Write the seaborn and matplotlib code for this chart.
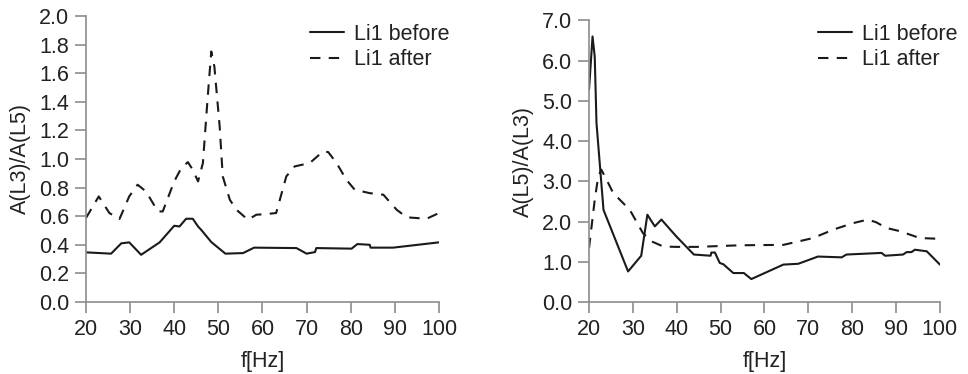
import pandas as pd
import matplotlib
matplotlib.use("Agg")
import matplotlib.pyplot as plt
import seaborn as sns

# Painel esquerdo: A(L3)/A(L5)
f_antes_esq = [20, 25.7, 28, 29.8, 32.5, 36.7, 40, 41.2, 42.7, 44.2, 45.4, 46.1, 48.4, 51.6,
               55.6, 58.1, 67.7, 70, 71.9, 72.2, 80.2, 81.5, 84.3, 84.5, 89.6, 100]
v_antes_esq = [0.347, 0.338, 0.41, 0.417, 0.33, 0.417, 0.533, 0.528, 0.582, 0.582, 0.528, 0.505,
               0.419, 0.338, 0.342, 0.38, 0.377, 0.338, 0.349, 0.377, 0.373, 0.405, 0.4, 0.38,
               0.38, 0.417]
f_depois_esq = [20, 22.9, 25.3, 27.6, 29.8, 31.7, 33.6, 36.3, 37.4, 40, 41.6, 43.1, 44.2, 45.4,
                46.5, 47.6, 48.4, 49.1, 50.3, 51, 52.6, 54.1, 56.7, 58.6, 60.9, 63.1, 65.4, 67.3,
                70.7, 73.7, 74.9, 76.8, 79, 80.9, 84.3, 87.4, 90.4, 92.7, 97.2, 100]
v_depois_esq = [0.587, 0.738, 0.622, 0.58, 0.738, 0.82, 0.773, 0.633, 0.633, 0.843, 0.936, 0.978,
                0.924, 0.843, 0.971, 1.437, 1.751, 1.646, 1.227, 0.878, 0.715, 0.645, 0.575, 0.61,
                0.615, 0.622, 0.878, 0.948, 0.971, 1.052, 1.048, 0.971, 0.855, 0.785, 0.761, 0.75,
                0.645, 0.592, 0.582, 0.622]

# Painel direito: A(L5)/A(L3)
f_antes_dir = [20, 20.8, 21.3, 21.7, 23.3, 28.9, 31.9, 33.3, 35, 36.5, 39.9, 43.9, 47.7, 47.9,
               48.7, 49.8, 50.6, 52.9, 55.3, 57, 64.3, 67.7, 72.2, 77.6, 78.7, 86.7, 87.5, 91.6,
               92.4, 93.5, 94.3, 97, 100]
v_antes_dir = [5.28, 6.6, 6.1, 4.45, 2.29, 0.76, 1.15, 2.17, 1.88, 2.05, 1.63, 1.18, 1.15, 1.23,
               1.23, 0.97, 0.94, 0.72, 0.72, 0.57, 0.93, 0.95, 1.13, 1.11, 1.18, 1.22, 1.15, 1.18,
               1.24, 1.24, 1.30, 1.26, 0.93]
f_depois_dir = [20, 21.3, 22.1, 22.8, 24, 25.5, 29.3, 32.3, 34.2, 36.9, 39.9, 44.5, 54.4, 64.3,
                71.1, 75.7, 80.2, 83.6, 85.5, 87.8, 90.9, 95.4, 100]
v_depois_dir = [1.34, 2.54, 3.12, 3.29, 3.04, 2.71, 2.29, 1.71, 1.51, 1.38, 1.37, 1.37, 1.41, 1.42,
                1.59, 1.80, 1.96, 2.05, 1.98, 1.84, 1.76, 1.59, 1.57]

ticks_esq = [0.0, 0.2, 0.4, 0.6, 0.8, 1.0, 1.2, 1.4, 1.6, 1.8, 2.0]
ticks_dir = [0.0, 1.0, 2.0, 3.0, 4.0, 5.0, 6.0, 7.0]

sns.set_style("ticks")
plt.rcParams['font.family'] = ['Liberation Sans', 'DejaVu Sans']

fig = plt.figure(figsize=(9.68, 3.74), dpi=100)
ax1 = fig.add_axes([0.0888, 0.1925, 0.3647, 0.765])
ax2 = fig.add_axes([0.6085, 0.1925, 0.3625, 0.753])

cinza = '#8c8c8c'
tam = 15.5

def desenha(ax, fa, va, fd, vd, ylim, yticks, ylabel, canto_leg):
    sns.lineplot(x=fa, y=va, ax=ax, color='#1a1a1a', lw=1.5, label='Li1 before', sort=False)
    sns.lineplot(x=fd, y=vd, ax=ax, color='#1a1a1a', lw=1.5, linestyle=(0, (5, 4)),
                 label='Li1 after', sort=False)
    ax.set_xlim(20, 100)
    ax.set_ylim(*ylim)
    ax.set_xticks(range(20, 101, 10))
    ax.set_yticks(yticks)
    ax.set_yticklabels(['{:.1f}'.format(t) for t in yticks])
    ax.set_xlabel('f[Hz]', fontsize=tam, color='#222222', labelpad=8)
    ax.set_ylabel(ylabel, fontsize=tam, color='#222222', labelpad=6)
    sns.despine(ax=ax)
    for s in ['left', 'bottom']:
        ax.spines[s].set_color(cinza)
        ax.spines[s].set_linewidth(1.2)
    ax.tick_params(axis='both', colors=cinza, labelcolor='#222222', labelsize=tam,
                   length=8, width=1.2, pad=4)
    leg = ax.legend(loc='upper right', frameon=False, fontsize=tam, handlelength=1.6,
                    handletextpad=0.45, labelspacing=0.2, borderaxespad=0.0, borderpad=0.0,
                    bbox_to_anchor=canto_leg, bbox_transform=fig.transFigure)
    for t in leg.get_texts():
        t.set_color('#222222')

desenha(ax1, f_antes_esq, v_antes_esq, f_depois_esq, v_depois_esq, (0, 2.0), ticks_esq,
        'A(L3)/A(L5)', (0.464, 0.936))
desenha(ax2, f_antes_dir, v_antes_dir, f_depois_dir, v_depois_dir, (0, 7.0), ticks_dir,
        'A(L5)/A(L3)', (0.989, 0.936))

fig.savefig('out.png', dpi=100)
